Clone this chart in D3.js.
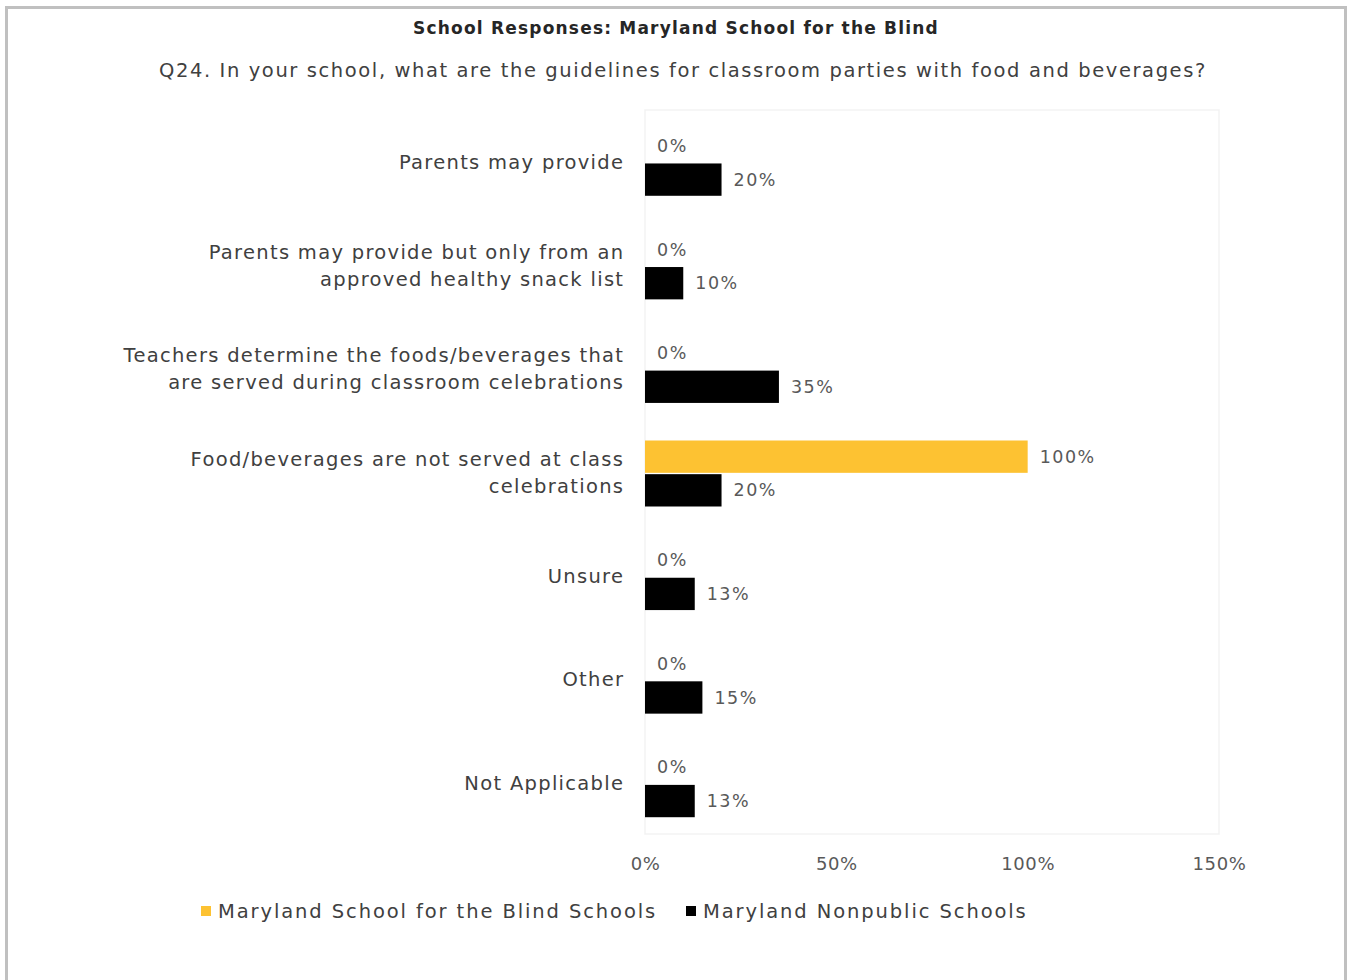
<!DOCTYPE html>
<html>
<head>
<meta charset="utf-8">
<script src="https://cdn.jsdelivr.net/npm/d3@7"></script>
<style>
  html, body { margin: 0; padding: 0; background: #fff; }
  svg { display: block; font-family: "DejaVu Sans", sans-serif; }
</style>
</head>
<body>
<svg id="chart" width="1348" height="980"></svg>
<script>
const categories = [
  ["Parents may provide"],
  ["Parents may provide but only from an", "approved healthy snack list"],
  ["Teachers determine the foods/beverages that", "are served during classroom celebrations"],
  ["Food/beverages are not served at class", "celebrations"],
  ["Unsure"],
  ["Other"],
  ["Not Applicable"]
];
const seriesNames = ["Maryland School for the Blind Schools", "Maryland Nonpublic Schools"];
const blindValues = [0, 0, 0, 100, 0, 0, 0];
const nonpublicValues = [20, 10, 35, 20, 13, 15, 13];
const xTicks = [0, 50, 100, 150];
const colors = ["#FDC232", "#000000"];
const titleText = "School Responses: Maryland School for the Blind";
const subtitleText = "Q24. In your school, what are the guidelines for classroom parties with food and beverages?";

const svg = d3.select("#chart");

// outer frame
svg.append("rect").attr("x", 6.5).attr("y", 7.5).attr("width", 1339).attr("height", 990)
  .attr("fill", "none").attr("stroke", "#c0c0c0").attr("stroke-width", 3);

svg.append("text").attr("x", 676).attr("y", 34).attr("text-anchor", "middle")
  .attr("font-size", 17).attr("font-weight", "bold").attr("fill", "#262626")
  .attr("letter-spacing", 1.2).text(titleText);
svg.append("text").attr("x", 683).attr("y", 77).attr("text-anchor", "middle")
  .attr("font-size", 19.5).attr("fill", "#404040")
  .attr("letter-spacing", 1.6).text(subtitleText);

const x = d3.scaleLinear().domain([0, 150]).range([645, 1219]);
const keys = categories.map((c, i) => i);
const y0 = d3.scaleBand().domain(keys).range([111, 836]).padding(0);
const y1 = d3.scaleBand().domain([0, 1])
  .range([y0.bandwidth() / 2 - 33, y0.bandwidth() / 2 + 33]).paddingInner(0.04);

// plot area faint frame
svg.append("rect").attr("x", x(0)).attr("y", 110).attr("width", x(150) - x(0)).attr("height", 724)
  .attr("fill", "none").attr("stroke", "#f3f3f3").attr("stroke-width", 1.5);

const data = keys.map(i => ({ i, vals: [blindValues[i], nonpublicValues[i]] }));

const g = svg.append("g");
const groups = g.selectAll("g.cat").data(data).join("g")
  .attr("class", "cat").attr("transform", d => `translate(0,${y0(d.i)})`);

groups.selectAll("rect").data(d => d.vals.map((v, s) => ({ v, s }))).join("rect")
  .attr("x", x(0)).attr("y", d => y1(d.s)).attr("height", y1.bandwidth())
  .attr("width", d => x(d.v) - x(0)).attr("fill", d => colors[d.s]);

groups.selectAll("text.val").data(d => d.vals.map((v, s) => ({ v, s }))).join("text")
  .attr("class", "val")
  .attr("x", d => x(d.v) + 12).attr("y", d => y1(d.s) + y1.bandwidth() / 2)
  .attr("dy", "0.35em").attr("font-size", 17.5).attr("fill", "#595959")
  .attr("letter-spacing", 1.5)
  .text(d => d.v + "%");

// category labels
groups.each(function(d) {
  const lines = categories[d.i];
  const t = d3.select(this).append("text").attr("text-anchor", "end")
    .attr("font-size", 19.5).attr("fill", "#404040").attr("letter-spacing", 1.3);
  const lh = 27;
  const c = y0.bandwidth() / 2;
  lines.forEach((ln, k) => {
    t.append("tspan").attr("x", 623 + 1.3)
      .attr("y", c - (lines.length - 1) * lh / 2 + k * lh - 1)
      .attr("dy", "0.35em").text(ln);
  });
});

// x axis
const xAxis = d3.axisBottom(x).tickValues(xTicks).tickFormat(d => d + "%").tickSize(0).tickPadding(0);
const ax = svg.append("g").attr("transform", "translate(0,857)").call(xAxis);
ax.select(".domain").remove();
ax.selectAll("text").attr("font-size", 18).attr("fill", "#595959")
  .attr("font-family", "DejaVu Sans, sans-serif").attr("letter-spacing", 0.6);

// legend
const legend = svg.append("g").attr("transform", "translate(0,911)");
const legX = [201, 686];
seriesNames.forEach((n, s) => {
  legend.append("rect").attr("x", legX[s]).attr("y", -5).attr("width", 10).attr("height", 10).attr("fill", colors[s]);
  legend.append("text").attr("x", legX[s] + 17).attr("y", 0).attr("dy", "0.35em")
    .attr("font-size", 19.5).attr("fill", "#404040").attr("letter-spacing", 1.9).text(n);
});
</script>
</body>
</html>
